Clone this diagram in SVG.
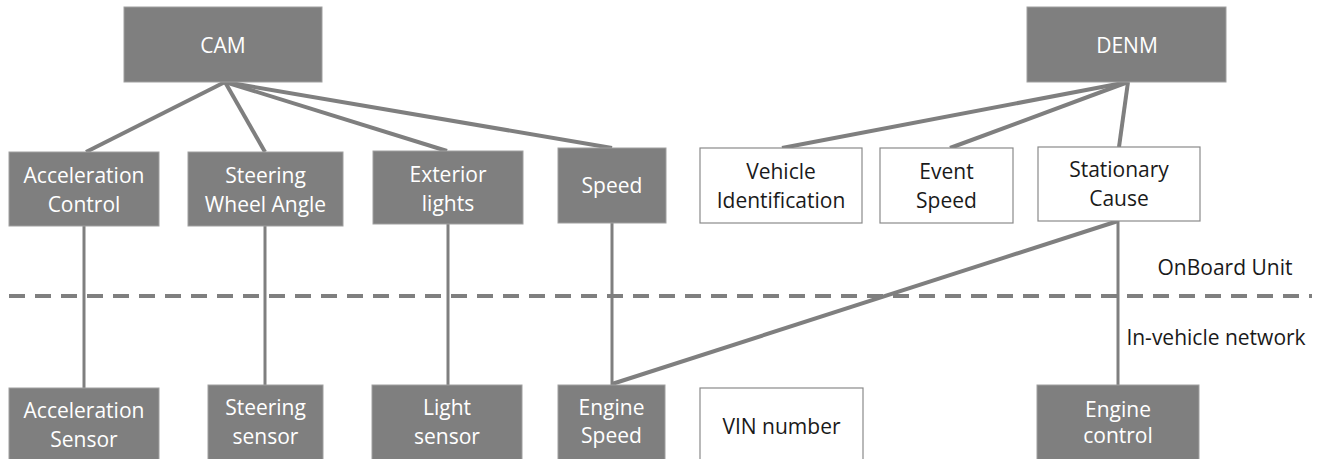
<svg xmlns="http://www.w3.org/2000/svg" width="1318" height="459" viewBox="0 0 1318 459">
<style>
.g{fill:#7f7f7f;stroke:#a0a0a0;stroke-width:1}
.w{fill:#ffffff;stroke:#8a8a8a;stroke-width:1.2}
text{font-family:"Open Sans","Liberation Sans",sans-serif;font-size:21px;text-anchor:middle}
.tw{fill:#ffffff}
.tb{fill:#1a1a1a}
.c{stroke:#7f7f7f;stroke-width:4;fill:none;stroke-linecap:butt}
.v{stroke:#7f7f7f;stroke-width:3;fill:none}
.d{stroke:#7f7f7f;stroke-width:4;stroke-dasharray:16 10;fill:none}
</style>
<rect width="1318" height="459" fill="#ffffff"/>
<g id="connectors">
<line class="c" x1="225" y1="82" x2="86" y2="152"/>
<line class="c" x1="225" y1="82" x2="265" y2="152"/>
<line class="c" x1="225" y1="82" x2="447" y2="151"/>
<line class="c" x1="225" y1="82" x2="612" y2="148"/>
<line class="c" x1="1128" y1="82" x2="782" y2="148"/>
<line class="c" x1="1128" y1="82" x2="950" y2="148"/>
<line class="c" x1="1128" y1="82" x2="1119" y2="147"/>
<line class="v" x1="84" y1="226" x2="84" y2="388"/>
<line class="v" x1="265" y1="226" x2="265" y2="385"/>
<line class="v" x1="448" y1="224" x2="448" y2="385"/>
<line class="v" x1="612" y1="223" x2="612" y2="385"/>
<line class="v" x1="1118" y1="221" x2="1118" y2="385"/>
<line class="c" x1="1118" y1="221" x2="612" y2="384"/>
</g>
<g id="divider">
<line class="d" x1="9" y1="296" x2="1312" y2="296"/>
<text class="tb" x="1225" y="275">OnBoard Unit</text>
<text class="tb" x="1216" y="345">In-vehicle network</text>
</g>
<g id="cam"><rect class="g" x="124" y="7" width="198" height="75"/><text class="tw" x="223" y="53">CAM</text></g>
<g id="denm"><rect class="g" x="1027" y="7" width="199" height="75"/><text class="tw" x="1127" y="53">DENM</text></g>
<g id="acc-control"><rect class="g" x="9" y="152" width="150" height="74"/><text class="tw" x="84" y="183">Acceleration</text><text class="tw" x="84" y="212">Control</text></g>
<g id="steering-angle"><rect class="g" x="188" y="152" width="155" height="74"/><text class="tw" x="265.5" y="183">Steering</text><text class="tw" x="265.5" y="212">Wheel Angle</text></g>
<g id="exterior-lights"><rect class="g" x="373" y="151" width="150" height="73"/><text class="tw" x="448" y="182">Exterior</text><text class="tw" x="448" y="211">lights</text></g>
<g id="speed"><rect class="g" x="558" y="148" width="108" height="75"/><text class="tw" x="612" y="193">Speed</text></g>
<g id="vehicle-id"><rect class="w" x="700" y="148" width="162" height="75"/><text class="tb" x="781" y="179">Vehicle</text><text class="tb" x="781" y="208">Identification</text></g>
<g id="event-speed"><rect class="w" x="880" y="148" width="133" height="75"/><text class="tb" x="946.5" y="179">Event</text><text class="tb" x="946.5" y="208">Speed</text></g>
<g id="stationary-cause"><rect class="w" x="1038" y="147" width="162" height="74"/><text class="tb" x="1119" y="177">Stationary</text><text class="tb" x="1119" y="206">Cause</text></g>
<g id="acc-sensor"><rect class="g" x="9" y="388" width="150" height="80"/><text class="tw" x="84" y="418">Acceleration</text><text class="tw" x="84" y="447">Sensor</text></g>
<g id="steering-sensor"><rect class="g" x="208" y="385" width="115" height="80"/><text class="tw" x="265.5" y="415">Steering</text><text class="tw" x="265.5" y="444">sensor</text></g>
<g id="light-sensor"><rect class="g" x="372" y="385" width="150" height="80"/><text class="tw" x="447" y="415">Light</text><text class="tw" x="447" y="444">sensor</text></g>
<g id="engine-speed"><rect class="g" x="558" y="385" width="107" height="80"/><text class="tw" x="611.5" y="415">Engine</text><text class="tw" x="611.5" y="443">Speed</text></g>
<g id="vin"><rect class="w" x="700" y="388" width="163" height="80"/><text class="tb" x="781.5" y="434">VIN number</text></g>
<g id="engine-control"><rect class="g" x="1037" y="385" width="162" height="80"/><text class="tw" x="1118" y="417">Engine</text><text class="tw" x="1118" y="443">control</text></g>
</svg>
